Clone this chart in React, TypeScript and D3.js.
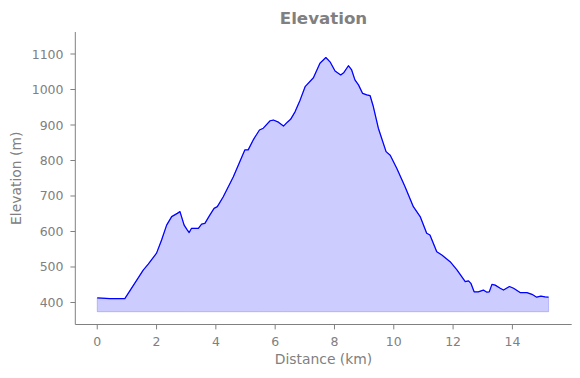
import React from "react";
import * as d3 from "d3";

const distanceKm = [0.0, 0.43, 0.93, 1.55, 1.72, 2.0, 2.17, 2.34, 2.51, 2.7, 2.79, 2.93, 3.04, 3.1, 3.18, 3.41, 3.52, 3.63, 3.78, 3.94, 4.05, 4.25, 4.59, 4.81, 4.98, 5.09, 5.26, 5.47, 5.6, 5.83, 5.94, 6.11, 6.28, 6.41, 6.52, 6.67, 6.84, 7.01, 7.29, 7.51, 7.71, 7.85, 8.02, 8.21, 8.32, 8.47, 8.58, 8.69, 8.81, 8.95, 9.09, 9.2, 9.31, 9.48, 9.74, 9.88, 10.1, 10.38, 10.66, 10.89, 11.11, 11.22, 11.45, 11.62, 11.9, 12.13, 12.41, 12.52, 12.6, 12.71, 12.85, 13.02, 13.14, 13.22, 13.31, 13.42, 13.59, 13.7, 13.9, 14.04, 14.26, 14.49, 14.66, 14.82, 14.96, 15.1, 15.22];
const elevationM = [413, 411, 411, 491, 508, 539, 576, 618, 642, 651, 656, 618, 604, 597, 609, 609, 621, 623, 644, 665, 670, 698, 754, 797, 830, 830, 858, 886, 891, 912, 914, 908, 897, 908, 916, 937, 970, 1008, 1033, 1074, 1090, 1078, 1052, 1041, 1048, 1067, 1055, 1027, 1013, 989, 985, 983, 952, 891, 825, 815, 778, 726, 670, 642, 595, 590, 543, 534, 515, 492, 459, 461, 454, 430, 430, 435, 429, 430, 451, 449, 440, 435, 445, 440, 428, 428, 423, 415, 418, 416, 415];
const xTicks = [0, 2, 4, 6, 8, 10, 12, 14];
const yTicks = [400, 500, 600, 700, 800, 900, 1000, 1100];
const fillBase = 374;
const xDomain = [-0.74, 16.0];
const yDomain = [338, 1162];

const W = 580, H = 378;
const left = 75.3, right = 571.7, top = 32, bottom = 324.5;
const gray = "#808080";
const font = "DejaVu Sans, sans-serif";

export default function App() {
  const x = d3.scaleLinear().domain(xDomain).range([left, right]);
  const y = d3.scaleLinear().domain(yDomain).range([bottom, top]);
  const pts = distanceKm.map((d, i) => [d, elevationM[i]] as [number, number]);
  const area = d3.area<[number, number]>().x(d => x(d[0])).y0(y(fillBase)).y1(d => y(d[1]))(pts) || "";
  const line = d3.line<[number, number]>().x(d => x(d[0])).y(d => y(d[1]))(pts) || "";
  return (
    <svg width={W} height={H} style={{ position: "absolute", left: 0, top: 0, background: "#fff" }}>
      <path d={area} fill="rgba(0,0,255,0.2)" stroke="rgba(0,0,255,0.2)" strokeWidth={1} />
      <path d={line} fill="none" stroke="#0000ff" strokeWidth={1.25} strokeLinejoin="round" />
      <line x1={left} x2={left} y1={top} y2={bottom} stroke={gray} strokeWidth={1} />
      <line x1={left} x2={right} y1={bottom} y2={bottom} stroke={gray} strokeWidth={1} />
      {xTicks.map(t => (
        <g key={"x" + t}>
          <line x1={x(t)} x2={x(t)} y1={bottom} y2={bottom + 4.9} stroke={gray} strokeWidth={1} />
          <text x={x(t)} y={346} textAnchor="middle" fontFamily={font} fontSize={12.5} fill={gray}>{t}</text>
        </g>
      ))}
      {yTicks.map(t => (
        <g key={"y" + t}>
          <line x1={left - 4.9} x2={left} y1={y(t)} y2={y(t)} stroke={gray} strokeWidth={1} />
          <text x={63.5} y={y(t)} dy="0.36em" textAnchor="end" fontFamily={font} fontSize={12.5} fill={gray}>{t}</text>
        </g>
      ))}
      <text x={(left + right) / 2} y={364} textAnchor="middle" fontFamily={font} fontSize={13.9} fill={gray}>Distance (km)</text>
      <text transform={`translate(21,${(top + bottom) / 2}) rotate(-90)`} textAnchor="middle" fontFamily={font} fontSize={13.9} fill={gray}>Elevation (m)</text>
      <text x={(left + right) / 2} y={24} textAnchor="middle" fontFamily={font} fontSize={16.67} fontWeight="bold" fill={gray}>Elevation</text>
    </svg>
  );
}
